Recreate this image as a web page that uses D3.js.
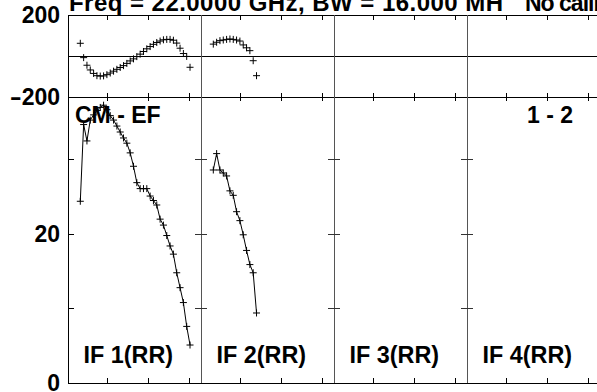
<!DOCTYPE html>
<html><head><meta charset="utf-8">
<script src="https://cdn.jsdelivr.net/npm/d3@7"></script>
<style>body{margin:0;background:#fff}svg{display:block}text{font-family:"Liberation Sans",Arial,sans-serif;font-weight:bold;fill:#000}</style>
</head><body><svg id="c" width="597" height="392"></svg>
<script>
// ---- data ----
const panelLabels = ["IF 1(RR)", "IF 2(RR)", "IF 3(RR)", "IF 4(RR)"];
const titleText = "Freq = 22.0000 GHz, BW = 16.000 MH";
const titleText2 = "No calibration";
const sourceLabel = "CM - EF";
const baselineLabel = "1 - 2";
const phaseTickLabels = [200, -200];
const ampTickLabels = [20, 0];
const ampMinorTicks = [10, 20, 30];
const chanTicks = [12.3, 24.5, 36.7];

const ch1 = d3.range(4, 38);   // channels 4..37 for IF1
const amp1 = [24.4,34.7,32.5,35.3,36.0,36.6,37.0,37.3,36.7,35.9,35.3,34.5,33.7,32.9,32.2,30.9,29.1,26.9,26.1,26.1,26.1,25.1,24.5,23.9,22.0,21.2,19.8,18.4,17.3,14.8,12.8,10.8,7.6,5.1];
const phase1 = [62,-8,-45,-68,-85,-96,-98,-97,-91,-83,-74,-65,-56,-47,-36,-24,-14,-3,9,22,35,46,57,66,73,79,81,81,77,63,38,12,-2,-55];
const ch2 = d3.range(4, 18);   // channels 4..17 for IF2
const amp2 = [28.6,30.8,28.6,28.2,27.8,25.8,25.2,23.0,21.8,19.9,17.8,15.9,14.8,9.4];
const phase2 = [58,67,75,78,81,83,81,78,73,54,40,26,-23,-96];

// ---- layout ----
const svg = d3.select("#c");
const L = 68, PW = 133, NP = 4;
const T = 15, M = 97, B = 383;
const x = d3.scaleLinear().domain([0.3, 40.3]).range([0, PW]);
const yP = d3.scaleLinear().domain([-200, 200]).range([M, T]);
const yA = d3.scaleLinear().domain([0, 38.4]).range([B, M]);
const R = L + PW * NP;

const g = svg.append("g");
const line = (x1,y1,x2,y2,c,w)=>g.append("line").attr("x1",x1).attr("y1",y1).attr("x2",x2).attr("y2",y2).attr("stroke",c||"#000").attr("stroke-width",w||1).attr("shape-rendering","crispEdges");

// frame
line(L, T, R, T);
line(L, M, R, M);
line(L, B, R, B);
line(L, yP(0), R, yP(0));
line(L, T, L, B);
for (let i = 1; i < NP; i++) line(L + i*PW, T, L + i*PW, B, "#555");

// x ticks
for (let i = 0; i < NP; i++) {
  const ox = L + i*PW;
  chanTicks.forEach(t => {
    const px = ox + x(t);
    line(px, T, px, T + 5);
    line(px, M - 4, px, M + 4);
    line(px, B - 5, px, B);
  });
}
// y ticks (amplitude)
ampMinorTicks.forEach(v => {
  line(L, yA(v), L + 6, yA(v));
  for (let i = 1; i < NP; i++) line(L + i*PW - 6, yA(v), L + i*PW + 6, yA(v), "#333");
});

// axis labels
function tickLabel(v, y) {
  const t = g.append("text").attr("x", 60).attr("y", y).attr("dy", "0.36em").attr("text-anchor","end").attr("font-size", 23);
  const s = String(v);
  if (s[0] === "-") {
    t.append("tspan").attr("textLength", 12).attr("lengthAdjust", "spacingAndGlyphs").text("-");
    t.append("tspan").text(s.slice(1));
  } else t.text(s);
}
phaseTickLabels.forEach(v => tickLabel(v, yP(v)));
ampTickLabels.forEach(v => tickLabel(v, yA(v)));

// title
g.append("text").attr("x", 69).attr("y", 11).attr("font-size", 24).attr("textLength", 434).attr("lengthAdjust", "spacing").text(titleText);
g.append("text").attr("x", 525).attr("y", 11).attr("font-size", 23).attr("letter-spacing", -1).text(titleText2);

// panel labels
panelLabels.forEach((t, i) => g.append("text").attr("x", L + i*PW + 15.5).attr("y", 363).attr("font-size", 23.4).text(t));
g.append("text").attr("x", 75).attr("y", 123).attr("font-size", 23).text(sourceLabel);
g.append("text").attr("x", 573).attr("y", 123).attr("text-anchor","end").attr("font-size", 23).text(baselineLabel);

// data
function plus(px, py) {
  const s = 3.5;
  g.append("path").attr("d", `M${px-s},${py}H${px+s}M${px},${py-s}V${py+s}`).attr("stroke","#000").attr("stroke-width",1).attr("fill","none");
}
const series = [{ch: ch1, a: amp1, p: phase1, i: 0}, {ch: ch2, a: amp2, p: phase2, i: 1}];
series.forEach(s => {
  const ox = L + s.i*PW;
  const pts = s.ch.map((c, k) => [ox + x(c), yA(s.a[k])]);
  g.append("path").attr("d", d3.line()(pts)).attr("fill","none").attr("stroke","#000").attr("stroke-width",1);
  pts.forEach(p => plus(p[0], p[1]));
  s.ch.forEach((c, k) => plus(ox + x(c), yP(s.p[k])));
});
</script></body></html>
